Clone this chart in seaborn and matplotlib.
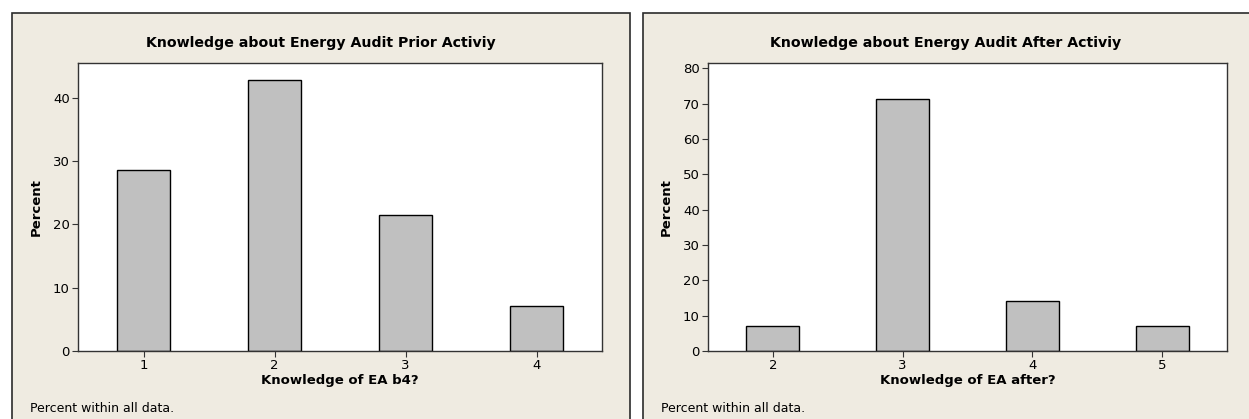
import matplotlib
matplotlib.use('Agg')
import matplotlib.pyplot as plt
import seaborn as sns
from matplotlib.patches import Rectangle

# data (percent within all data, n = 14)
prior_levels = ['1', '2', '3', '4']
prior_pct = [28.57, 42.86, 21.43, 7.14]
after_levels = ['2', '3', '4', '5']
after_pct = [7.14, 71.43, 14.29, 7.14]

titles = ['Knowledge about Energy Audit Prior Activiy', 'Knowledge about Energy Audit After Activiy']
xlabels = ['Knowledge of EA b4?', 'Knowledge of EA after?']
footnote = 'Percent within all data.'

sns.set_style('white')
plt.rcParams['font.family'] = ['DejaVu Sans']
plt.rcParams['text.color'] = 'black'
plt.rcParams['axes.labelcolor'] = 'black'
plt.rcParams['xtick.color'] = 'black'
plt.rcParams['ytick.color'] = 'black'

W, H = 1249, 419
fig = plt.figure(figsize=(W / 100, H / 100), dpi=100)
fig.patch.set_facecolor('white')

bg = '#EFEBE1'

# panel frames (pixel coords from left / top)
panels = [(12, 630), (643, 1262)]
for x0, x1 in panels:
    fig.patches.append(Rectangle((x0 / W, -0.05), (x1 - x0) / W, 1.05 - 13 / H,
                                 transform=fig.transFigure, facecolor=bg,
                                 edgecolor='#2b2b2b', lw=1.2, zorder=-10))

axes_pos = [(78, 602, 63, 351), (708, 1227, 63, 351)]
ylims = [45.5, 81.5]
yticks = [[0, 10, 20, 30, 40], [0, 10, 20, 30, 40, 50, 60, 70, 80]]
data = [(prior_levels, prior_pct), (after_levels, after_pct)]

for i in range(2):
    l, r, t, b = axes_pos[i]
    ax = fig.add_axes([l / W, 1 - b / H, (r - l) / W, (b - t) / H])
    levels, vals = data[i]
    sns.barplot(x=levels, y=vals, order=levels, color='#C0C0C0', edgecolor='black',
                linewidth=1.0, width=0.41, saturation=1, ax=ax)
    ax.set_xlim(-0.5, 3.5)
    ax.set_ylim(0, ylims[i])
    ax.set_yticks(yticks[i])
    ax.set_facecolor('white')
    for s in ax.spines.values():
        s.set_color('#333333')
        s.set_linewidth(1.0)
    ax.tick_params(axis='both', direction='out', length=4, width=0.8, color='#333333',
                   labelsize=9.5, pad=2, left=True, bottom=True)
    ax.set_xlabel(xlabels[i], fontsize=9.5, fontweight='bold', labelpad=1)
    ax.set_ylabel('Percent', fontsize=9.5, fontweight='bold', labelpad=7)
    x0, x1 = panels[i]
    xc = (x0 + min(x1, W)) / 2
    fig.text(xc / W, 1 - 43 / H, titles[i], ha='center', va='center',
             fontsize=10.2, fontweight='bold')
    fig.text((x0 + 18) / W, 1 - 408 / H, footnote, ha='left', va='center', fontsize=9)

fig.savefig('out.png', dpi=100, facecolor='white')
